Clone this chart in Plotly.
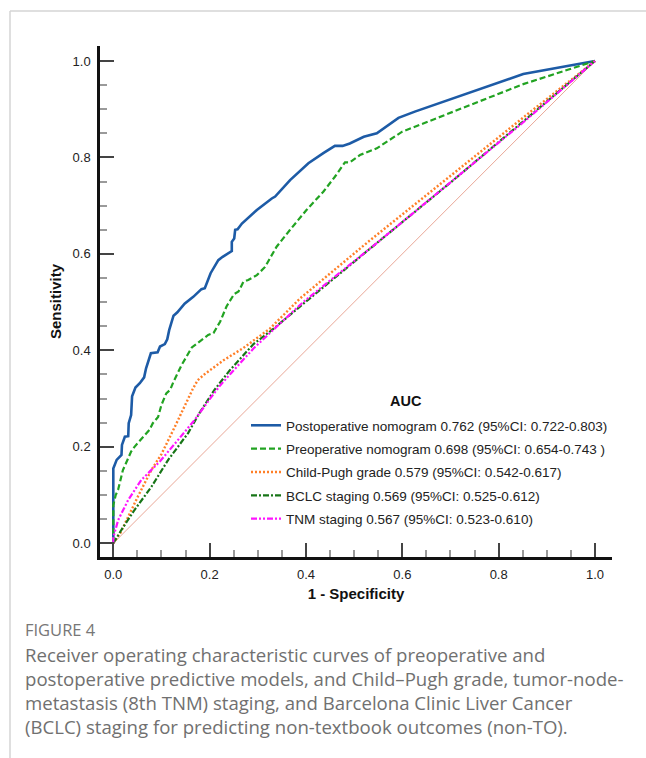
import plotly.graph_objects as go

# ---------------- data ----------------
post_fpr = [0, 0, 0.007, 0.017, 0.018, 0.024, 0.031, 0.032, 0.037, 0.039, 0.046, 0.055, 0.064, 0.068,
            0.078, 0.092, 0.097, 0.107, 0.112, 0.116, 0.125, 0.133, 0.148, 0.166, 0.183, 0.190, 0.202,
            0.218, 0.227, 0.246, 0.246, 0.251, 0.253, 0.258, 0.267, 0.298, 0.329, 0.336, 0.367, 0.405,
            0.436, 0.460, 0.476, 0.491, 0.520, 0.547, 0.592, 0.626, 0.851, 1.0]
post_tpr = [0, 0.155, 0.173, 0.183, 0.204, 0.221, 0.222, 0.249, 0.266, 0.305, 0.323, 0.332, 0.344, 0.363,
            0.394, 0.396, 0.408, 0.413, 0.423, 0.442, 0.472, 0.479, 0.497, 0.511, 0.527, 0.529, 0.560,
            0.587, 0.594, 0.606, 0.625, 0.632, 0.650, 0.651, 0.663, 0.691, 0.715, 0.719, 0.753, 0.788,
            0.809, 0.824, 0.824, 0.829, 0.843, 0.850, 0.882, 0.895, 0.973, 1.0]

pre_fpr = [0, 0, 0.005, 0.010, 0.020, 0.027, 0.037, 0.044, 0.062, 0.075, 0.082, 0.093, 0.100, 0.110,
           0.118, 0.125, 0.142, 0.163, 0.176, 0.197, 0.208, 0.222, 0.235, 0.251, 0.260, 0.270, 0.280,
           0.298, 0.315, 0.339, 0.367, 0.401, 0.436, 0.460, 0.481, 0.491, 0.512, 0.530, 0.547, 0.599,
           0.851, 1.0]
pre_tpr = [0, 0.079, 0.100, 0.111, 0.152, 0.169, 0.190, 0.200, 0.221, 0.235, 0.249, 0.262, 0.287, 0.311,
           0.318, 0.335, 0.370, 0.406, 0.416, 0.432, 0.436, 0.460, 0.491, 0.517, 0.522, 0.542, 0.546,
           0.556, 0.573, 0.615, 0.650, 0.691, 0.729, 0.760, 0.790, 0.790, 0.805, 0.813, 0.819, 0.853,
           0.952, 1.0]

cp_fpr = [0, 0.015, 0.031, 0.051, 0.079, 0.100, 0.127, 0.150, 0.165, 0.175, 0.190, 0.228, 0.270, 0.325,
          0.388, 0.529, 0.700, 0.850, 1.0]
cp_tpr = [0, 0.022, 0.055, 0.097, 0.152, 0.185, 0.240, 0.290, 0.320, 0.338, 0.351, 0.379, 0.405, 0.445,
          0.508, 0.625, 0.762, 0.882, 1.0]

bclc_fpr = [0, 0.017, 0.044, 0.079, 0.114, 0.155, 0.180, 0.210, 0.242, 0.291, 0.329, 0.374, 0.401, 0.550,
            0.700, 0.850, 1.0]
bclc_tpr = [0, 0.028, 0.069, 0.117, 0.173, 0.228, 0.272, 0.318, 0.359, 0.413, 0.442, 0.480, 0.502, 0.625,
            0.748, 0.874, 1.0]

tnm_fpr = [0, 0, 0.010, 0.031, 0.058, 0.079, 0.097, 0.134, 0.169, 0.201, 0.220, 0.242, 0.291, 0.339,
           0.394, 0.550, 0.700, 0.850, 1.0]
tnm_tpr = [0, 0.012, 0.048, 0.090, 0.131, 0.152, 0.170, 0.214, 0.256, 0.300, 0.325, 0.350, 0.404, 0.449,
           0.500, 0.625, 0.748, 0.872, 1.0]

ref_x = [0, 1]
ref_y = [0, 1]

series_names = [
    "Postoperative nomogram 0.762 (95%CI: 0.722-0.803)",
    "Preoperative nomogram 0.698 (95%CI: 0.654-0.743 )",
    "Child-Pugh grade 0.579 (95%CI: 0.542-0.617)",
    "BCLC staging 0.569 (95%CI: 0.525-0.612)",
    "TNM staging 0.567 (95%CI: 0.523-0.610)",
]

tick_vals = [0.0, 0.2, 0.4, 0.6, 0.8, 1.0]
tick_text = ["0.0", "0.2", "0.4", "0.6", "0.8", "1.0"]

caption_head = "FIGURE 4"
caption_lines = [
    "Receiver operating characteristic curves of preoperative and",
    "postoperative predictive models, and Child\u2013Pugh grade, tumor-node-",
    "metastasis (8th TNM) staging, and Barcelona Clinic Liver Cancer",
    "(BCLC) staging for predicting non-textbook outcomes (non-TO).",
]

# ---------------- layout geometry ----------------
W, H = 646, 758
ML, MR, MT, MB = 100, 34, 46, 201
PW, PH = W - ML - MR, H - MT - MB
x0 = -(113.3 - ML) / 481.7
x1 = x0 + PW / 481.7
y0 = -((H - MB) - 543.3) / 482.3
y1 = y0 + PH / 482.3


def px_x(px):
    return (px - ML) / PW


def px_y(py):
    return ((H - MB) - py) / PH


AX_FONT = "Liberation Sans, Arial, sans-serif"
CAP_FONT = "Open Sans, Lato, sans-serif"

fig = go.Figure()

fig.add_trace(go.Scatter(x=ref_x, y=ref_y, mode="lines", showlegend=False,
                         line=dict(color="#e9a797", width=1), hoverinfo="skip"))

styles = [
    (post_fpr, post_tpr, "#1d5ba6", 2.6, "solid"),
    (pre_fpr, pre_tpr, "#22a322", 2.2, "6px,3px"),
    (cp_fpr, cp_tpr, "#ff7f27", 2.4, "2px,2px"),
    (bclc_fpr, bclc_tpr, "#177517", 2.2, "6px,2px,2px,2px"),
    (tnm_fpr, tnm_tpr, "#ff14ff", 2.2, "6px,2px,2px,2px,2px,2px"),
]
for i, (xs, ys, col, w, dash) in enumerate(styles):
    fig.add_trace(go.Scatter(x=xs, y=ys, mode="lines", name=series_names[i],
                             legendgroup=f"g{i}",
                             line=dict(color=col, width=w, dash=dash)))

axis_common = dict(
    showline=True, linecolor="#111", linewidth=2.5, mirror=False,
    showgrid=False, zeroline=False,
    ticks="inside", ticklen=14, tickwidth=2, tickcolor="#444",
    tickmode="array", tickvals=tick_vals, ticktext=tick_text,
    tickfont=dict(family=AX_FONT, size=13, color="#222"),
    minor=dict(ticks="inside", ticklen=7, tickwidth=1.5, tickcolor="#9a9a9a",
               dtick=0.05, tick0=0, showgrid=False),
    ticklabelstandoff=4,
)

fig.update_xaxes(range=[x0, x1], **axis_common,
                 title=dict(text="<b>1 - Specificity</b>", standoff=8,
                            font=dict(family=AX_FONT, size=15, color="#111")))
fig.update_yaxes(range=[y0, y1], **axis_common,
                 title=dict(text="<b>Sensitivity</b>", standoff=8,
                            font=dict(family=AX_FONT, size=15, color="#111")))

fig.update_layout(
    width=W, height=H,
    margin=dict(l=ML, r=MR, t=MT, b=MB, autoexpand=False),
    paper_bgcolor="white", plot_bgcolor="white",
    showlegend=True,
    legend=dict(x=px_x(246), y=px_y(410), xanchor="left", yanchor="top",
                font=dict(family=AX_FONT, size=13.5, color="#222"),
                bgcolor="rgba(0,0,0,0)", borderwidth=0,
                traceorder="grouped", tracegroupgap=2.8,
                itemwidth=30),
)

# AUC legend heading
fig.add_annotation(text="<b>AUC</b>", xref="paper", yref="paper",
                   x=px_x(406), y=px_y(401), xanchor="center", yanchor="middle",
                   showarrow=False, font=dict(family=AX_FONT, size=14.5, color="#111"))

# frame lines of the figure panel
fig.add_shape(type="line", xref="paper", yref="paper",
              x0=px_x(10), x1=px_x(10), y0=px_y(11), y1=px_y(760),
              line=dict(color="#d4d4d4", width=1.5))
fig.add_shape(type="line", xref="paper", yref="paper",
              x0=px_x(10), x1=px_x(648), y0=px_y(11), y1=px_y(11),
              line=dict(color="#d4d4d4", width=1.5))

# caption
fig.add_annotation(text=caption_head, xref="paper", yref="paper",
                   x=px_x(23), y=px_y(629), xanchor="left", yanchor="middle",
                   showarrow=False, font=dict(family=CAP_FONT, size=16.5, color="#777"))
cap_y = [655, 679, 703, 727]
for line, py in zip(caption_lines, cap_y):
    fig.add_annotation(text=line, xref="paper", yref="paper",
                       x=px_x(23), y=px_y(py), xanchor="left", yanchor="middle",
                       showarrow=False, font=dict(family=CAP_FONT, size=18.6, color="#707070"))

fig.write_html("out.html")
